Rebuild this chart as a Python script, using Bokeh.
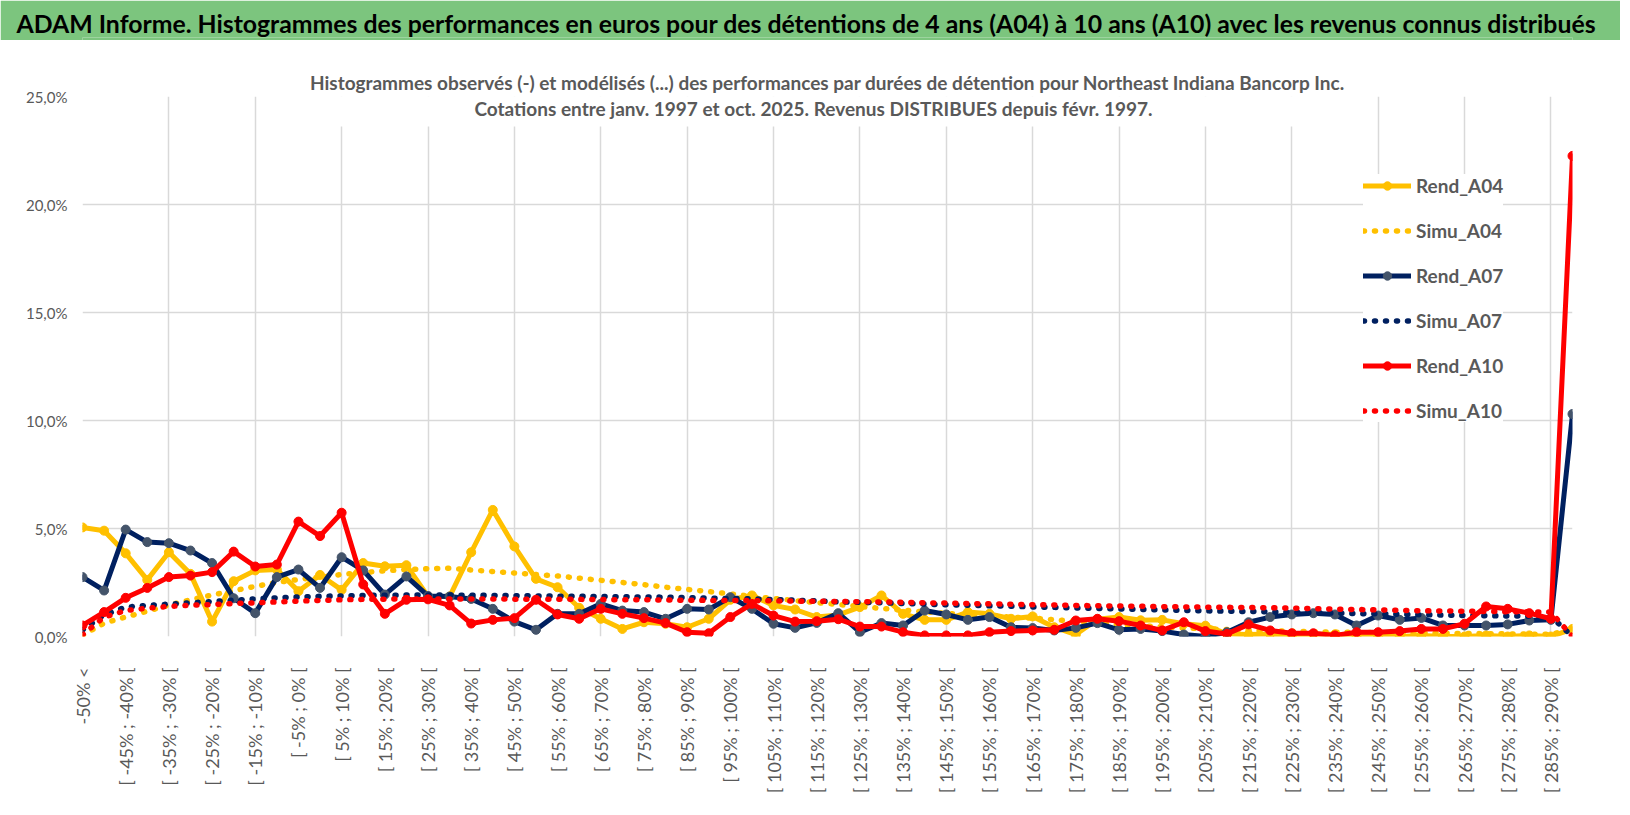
import math
from bokeh.plotting import figure
from bokeh.models import Range1d, FixedTicker, Label, Legend, LegendItem, BoxAnnotation
from bokeh.layouts import column
from bokeh.embed import file_html
from bokeh.resources import INLINE

# ---------------- data ----------------
categories = [
    "-50% <",
    "[ -50% ; -45% [", "[ -45% ; -40% [", "[ -40% ; -35% [", "[ -35% ; -30% [",
    "[ -30% ; -25% [", "[ -25% ; -20% [", "[ -20% ; -15% [", "[ -15% ; -10% [",
    "[ -10% ; -5% [", "[ -5% ; 0% [", "[ 0% ; 5% [", "[ 5% ; 10% [",
    "[ 10% ; 15% [", "[ 15% ; 20% [", "[ 20% ; 25% [", "[ 25% ; 30% [",
    "[ 30% ; 35% [", "[ 35% ; 40% [", "[ 40% ; 45% [", "[ 45% ; 50% [",
    "[ 50% ; 55% [", "[ 55% ; 60% [", "[ 60% ; 65% [", "[ 65% ; 70% [",
    "[ 70% ; 75% [", "[ 75% ; 80% [", "[ 80% ; 85% [", "[ 85% ; 90% [",
    "[ 90% ; 95% [", "[ 95% ; 100% [", "[ 100% ; 105% [", "[ 105% ; 110% [",
    "[ 110% ; 115% [", "[ 115% ; 120% [", "[ 120% ; 125% [", "[ 125% ; 130% [",
    "[ 130% ; 135% [", "[ 135% ; 140% [", "[ 140% ; 145% [", "[ 145% ; 150% [",
    "[ 150% ; 155% [", "[ 155% ; 160% [", "[ 160% ; 165% [", "[ 165% ; 170% [",
    "[ 170% ; 175% [", "[ 175% ; 180% [", "[ 180% ; 185% [", "[ 185% ; 190% [",
    "[ 190% ; 195% [", "[ 195% ; 200% [", "[ 200% ; 205% [", "[ 205% ; 210% [",
    "[ 210% ; 215% [", "[ 215% ; 220% [", "[ 220% ; 225% [", "[ 225% ; 230% [",
    "[ 230% ; 235% [", "[ 235% ; 240% [", "[ 240% ; 245% [", "[ 245% ; 250% [",
    "[ 250% ; 255% [", "[ 255% ; 260% [", "[ 260% ; 265% [", "[ 265% ; 270% [",
    "[ 270% ; 275% [", "[ 275% ; 280% [", "[ 280% ; 285% [", "[ 285% ; 290% [",
    "> 290%",
]

y_ticks = [0, 5, 10, 15, 20, 25]
y_tick_labels = ["0,0%", "5,0%", "10,0%", "15,0%", "20,0%", "25,0%"]

rend_a04 = [5.05, 4.9, 3.85, 2.62, 3.9, 2.9, 0.69, 2.56, 3.06, 3.1,
            2.1, 2.85, 2.16, 3.4, 3.25, 3.3, 1.85, 1.85, 3.9, 5.86,
            4.17, 2.67, 2.28, 1.33, 0.82, 0.35, 0.66, 0.59, 0.43, 0.82,
            1.7, 1.9, 1.44, 1.25, 0.9, 1.0, 1.36, 1.9, 1.05, 0.77,
            0.77, 1.13, 1.05, 0.82, 0.93, 0.43, 0.09, 0.8, 0.9, 0.75,
            0.77, 0.59, 0.5, 0.12, 0.09, 0.12, 0.0, 0.1, 0.1, 0.0,
            0.0, 0.0, 0.05, 0.0, 0.0, 0.05, 0.0, 0.05, 0.0, 0.35]
simu_a04 = [0.05, 0.62, 0.9, 1.17, 1.45, 1.7, 1.92, 2.12, 2.32, 2.5,
            2.64, 2.76, 2.87, 2.96, 3.04, 3.1, 3.14, 3.16, 3.08, 3.01,
            2.94, 2.87, 2.8, 2.7, 2.6, 2.5, 2.4, 2.28, 2.18, 2.08,
            1.97, 1.86, 1.76, 1.66, 1.57, 1.48, 1.39, 1.3, 1.22, 1.14,
            1.07, 1.0, 0.95, 0.9, 0.85, 0.78, 0.7, 0.63, 0.56, 0.5,
            0.45, 0.4, 0.36, 0.32, 0.29, 0.26, 0.24, 0.22, 0.2, 0.19,
            0.18, 0.17, 0.16, 0.15, 0.14, 0.13, 0.12, 0.11, 0.1, 0.35]
rend_a07 = [2.75, 2.13, 4.95, 4.37, 4.32, 3.98, 3.4, 1.77, 1.08, 2.75,
            3.1, 2.25, 3.67, 3.06, 1.94, 2.78, 1.88, 1.85, 1.74, 1.28,
            0.69, 0.31, 1.05, 1.05, 1.51, 1.2, 1.13, 0.82, 1.28, 1.25,
            1.82, 1.28, 0.59, 0.4, 0.63, 1.08, 0.2, 0.62, 0.51, 1.2,
            1.02, 0.77, 0.9, 0.43, 0.39, 0.28, 0.4, 0.62, 0.31, 0.35,
            0.25, 0.09, 0.0, 0.2, 0.66, 0.9, 1.02, 1.08, 1.02, 0.51,
            0.97, 0.77, 0.86, 0.51, 0.51, 0.51, 0.56, 0.74, 0.77, 10.3]
simu_a07 = [0.3, 1.0, 1.36, 1.44, 1.5, 1.56, 1.62, 1.68, 1.74, 1.79,
            1.83, 1.86, 1.88, 1.9, 1.91, 1.92, 1.92, 1.92, 1.91, 1.9,
            1.89, 1.88, 1.87, 1.86, 1.85, 1.84, 1.83, 1.82, 1.8, 1.78,
            1.76, 1.74, 1.71, 1.68, 1.65, 1.6, 1.58, 1.56, 1.53, 1.5,
            1.47, 1.45, 1.42, 1.4, 1.37, 1.35, 1.32, 1.3, 1.28, 1.25,
            1.23, 1.21, 1.19, 1.17, 1.16, 1.14, 1.12, 1.1, 1.08, 1.06,
            1.05, 1.03, 1.01, 0.99, 0.97, 0.96, 0.95, 0.94, 0.93, 0.0]
rend_a10 = [0.51, 1.13, 1.79, 2.25, 2.75, 2.82, 2.98, 3.93, 3.24, 3.33,
            5.32, 4.65, 5.73, 2.41, 1.05, 1.7, 1.72, 1.44, 0.6, 0.77,
            0.85, 1.7, 1.02, 0.82, 1.28, 1.05, 0.85, 0.62, 0.2, 0.15,
            0.9, 1.51, 0.97, 0.69, 0.71, 0.8, 0.46, 0.46, 0.2, 0.05,
            0.05, 0.05, 0.2, 0.25, 0.28, 0.31, 0.74, 0.82, 0.71, 0.51,
            0.28, 0.66, 0.25, 0.12, 0.56, 0.28, 0.15, 0.15, 0.05, 0.2,
            0.2, 0.25, 0.35, 0.35, 0.59, 1.39, 1.28, 1.08, 0.82, 22.25]
simu_a10 = [0.08, 0.9, 1.2, 1.31, 1.39, 1.45, 1.48, 1.53, 1.56, 1.6,
            1.64, 1.67, 1.7, 1.72, 1.73, 1.74, 1.74, 1.74, 1.74, 1.74,
            1.73, 1.73, 1.72, 1.72, 1.71, 1.7, 1.7, 1.69, 1.68, 1.67,
            1.67, 1.66, 1.65, 1.64, 1.63, 1.62, 1.61, 1.6, 1.58, 1.56,
            1.55, 1.53, 1.51, 1.49, 1.47, 1.46, 1.44, 1.42, 1.41, 1.4,
            1.38, 1.37, 1.36, 1.35, 1.34, 1.33, 1.31, 1.29, 1.27, 1.25,
            1.23, 1.21, 1.19, 1.18, 1.17, 1.16, 1.15, 1.14, 1.13, 0.0]

series_names = ["Rend_A04", "Simu_A04", "Rend_A07", "Simu_A07", "Rend_A10", "Simu_A10"]

TITLE = ("ADAM Informe. Histogrammes des performances en euros pour des détentions "
         "de 4 ans (A04) à 10 ans (A10) avec les revenus connus distribués")
SUB1 = ("Histogrammes observés (-) et modélisés (...) des performances par durées "
        "de détention pour Northeast Indiana Bancorp Inc.")
SUB2 = "Cotations entre janv. 1997 et oct. 2025. Revenus DISTRIBUES depuis févr. 1997."

# ---------------- style ----------------
FONT = "Lato"
GREEN = "#7CC57E"
YELLOW = "#FFC000"
NAVY = "#002060"
NAVY_MK = "#44546A"
RED = "#FF0000"
GREY_TXT = "#595959"
GRID = "#D9D9D9"

W = 1620
TOP_H = 40
MAIN_H = 767
B_LEFT = 82
B_RIGHT = 48
FRAME_W = W - B_LEFT - B_RIGHT   # 1490
FRAME_H = 540
B_TOP = 96 - TOP_H               # frame top at y=96
B_BOTTOM = MAIN_H - B_TOP - FRAME_H

# ---------------- title bar ----------------
top = figure(width=W, height=TOP_H, title=TITLE, toolbar_location=None, output_backend="svg",
             x_axis_location=None, y_axis_location=None,
             min_border_left=B_LEFT, min_border_right=B_RIGHT,
             min_border_top=TOP_H - 3, min_border_bottom=0,
             outline_line_color=None, background_fill_color=GREEN,
             border_fill_color=GREEN)
top.grid.visible = False
top.title.align = "left"
top.title.offset = 16 - B_LEFT
top.title.standoff = 0
top.title.vertical_align = "bottom"
top.title.text_font = FONT
top.title.text_font_style = "bold"
top.title.text_font_size = "24.8px"
top.title.text_color = "black"

# ---------------- main chart ----------------
n = len(categories)
xs = list(range(n))

p = figure(width=W, height=MAIN_H, title=SUB1, x_range=Range1d(0, n - 1),
           y_range=Range1d(0, 25), toolbar_location=None, output_backend="svg",
           min_border_left=B_LEFT, min_border_right=B_RIGHT,
           min_border_top=B_TOP, min_border_bottom=B_BOTTOM,
           outline_line_color=None, background_fill_color="white", border_fill_color="white")
p.title.align = "center"
p.title.offset = 813 - (B_LEFT + FRAME_W / 2)
p.title.standoff = 6
p.title.vertical_align = "bottom"
p.title.text_font = FONT
p.title.text_font_style = "bold"
p.title.text_font_size = "19px"
p.title.text_color = GREY_TXT

# axes
p.xaxis.ticker = FixedTicker(ticks=list(range(0, n - 1, 2)))
p.xaxis.major_label_overrides = {i: categories[i] for i in range(0, n - 1, 2)}
p.xaxis.major_label_orientation = math.pi / 2
p.xaxis.axis_line_color = None
p.xaxis.major_tick_line_color = None
p.xaxis.minor_tick_line_color = None
p.xaxis.major_label_standoff = 25
p.xaxis.major_label_text_font = FONT
p.xaxis.major_label_text_font_size = "18px"
p.xaxis.major_label_text_color = GREY_TXT

p.yaxis.ticker = FixedTicker(ticks=y_ticks)
p.yaxis.major_label_overrides = {t: lab for t, lab in zip(y_ticks, y_tick_labels)}
p.yaxis.axis_line_color = None
p.yaxis.major_tick_line_color = None
p.yaxis.minor_tick_line_color = None
p.yaxis.major_label_standoff = 9
p.yaxis.major_label_text_font = FONT
p.yaxis.major_label_text_font_size = "15px"
p.yaxis.major_label_text_color = GREY_TXT

p.xgrid.ticker = FixedTicker(ticks=list(range(0, n - 1, 4)))
p.xgrid.grid_line_color = GRID
p.xgrid.grid_line_width = 1.5
p.ygrid.grid_line_color = GRID
p.ygrid.grid_line_width = 1.5

# series
def rend(vals, color, mk):
    l = p.line(xs, vals, line_color=color, line_width=5, line_join="round", line_cap="round")
    s = p.scatter(xs, vals, size=9, fill_color=mk, line_color=mk)
    return [l, s]

def simu(vals, color):
    d = p.line(xs, vals, line_color=color, line_width=5.5, line_dash="1 10", line_cap="round")
    return [d]

r1 = rend(rend_a04, YELLOW, YELLOW)
d1 = simu(simu_a04, YELLOW)
r2 = rend(rend_a07, NAVY, NAVY_MK)
d2 = simu(simu_a07, NAVY)
r3 = rend(rend_a10, RED, RED)
d3 = simu(simu_a10, RED)

# second subtitle line (inside the frame, white box hides grid lines behind)
px_per_x = FRAME_W / (n - 1)
px_per_y = FRAME_H / 25
def dx(page_x):
    return (page_x - B_LEFT) / px_per_x
def dy(page_y):
    return (636 - page_y) / px_per_y

p.add_layout(BoxAnnotation(left=dx(267), right=dx(1360), bottom=dy(126), top=26,
                           fill_color="white", fill_alpha=1.0, line_color=None))
p.add_layout(Label(x=dx(813), y=dy(108), text=SUB2, text_font=FONT,
                   text_font_style="bold", text_font_size="19px", text_color=GREY_TXT,
                   text_align="center", text_baseline="middle"))

# legend
items = [LegendItem(label=series_names[0], renderers=r1),
         LegendItem(label=series_names[1], renderers=d1),
         LegendItem(label=series_names[2], renderers=r2),
         LegendItem(label=series_names[3], renderers=d2),
         LegendItem(label=series_names[4], renderers=r3),
         LegendItem(label=series_names[5], renderers=d3)]
legend = Legend(items=items, location=(1281, 214), orientation="vertical",
                label_text_font=FONT, label_text_font_style="bold",
                label_text_font_size="19px", label_text_color=GREY_TXT,
                glyph_width=48, glyph_height=21, label_height=21, spacing=22,
                padding=10, margin=0, label_standoff=5,
                background_fill_color="white", background_fill_alpha=1.0,
                border_line_color=None)
p.add_layout(legend)

layout = column(top, p, spacing=0)
open("out.html", "w").write(file_html(layout, INLINE))
